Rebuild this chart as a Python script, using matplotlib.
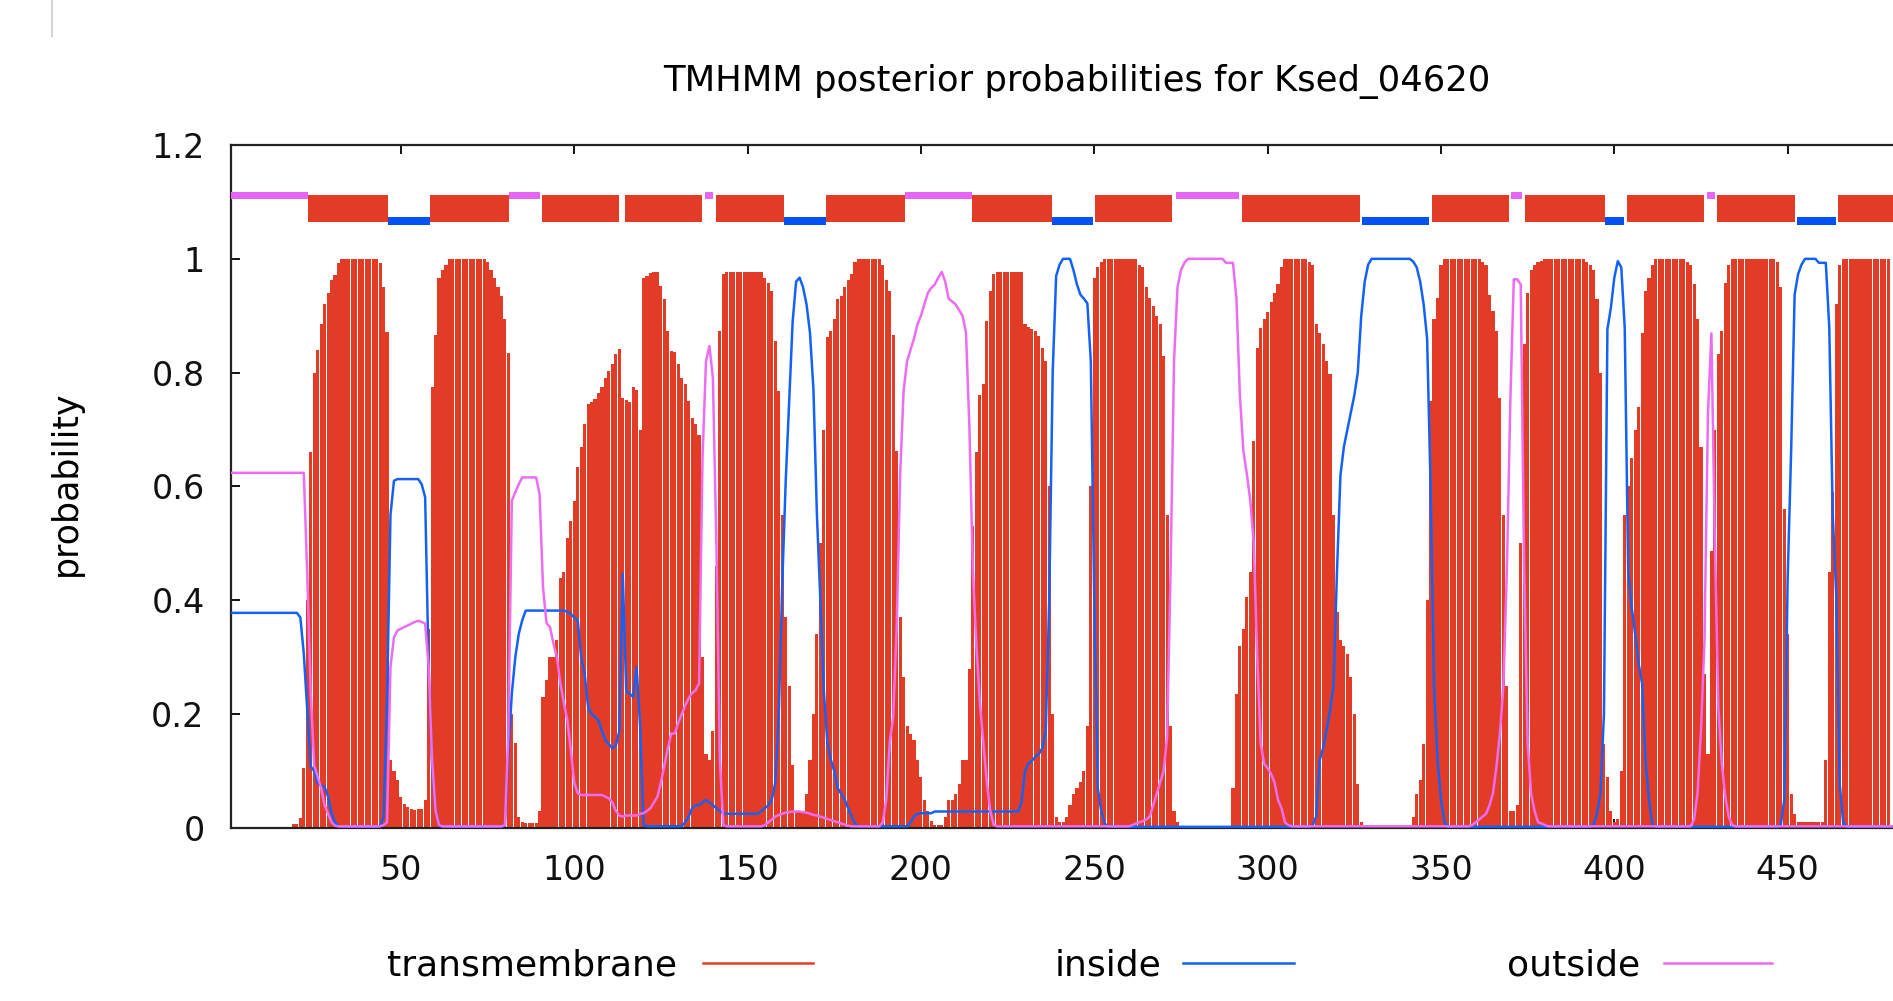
import numpy as np
import matplotlib.pyplot as plt
from matplotlib.lines import Line2D

# posterior probabilities per residue (1..480)
tm = ([0.0] * 18
      + [0.007, 0.007, 0.017, 0.105, 0.4, 0.66, 0.8, 0.84, 0.886, 0.92, 0.94, 0.963, 0.972, 0.992]
      + [1.0] * 11
      + [0.992, 0.95, 0.872, 0.119, 0.1, 0.084, 0.055, 0.043, 0.037, 0.034, 0.032, 0.034, 0.034, 0.049, 0.35]
      + [0.775, 0.866, 0.966, 0.98, 0.99]
      + [1.0] * 11
      + [0.995, 0.98, 0.966, 0.95, 0.934, 0.895, 0.834, 0.2, 0.15, 0.02, 0.01, 0.008, 0.008, 0.008, 0.008, 0.03]
      + [0.23, 0.26, 0.3, 0.3, 0.33, 0.44, 0.45, 0.51, 0.54, 0.575, 0.634, 0.67, 0.71, 0.745, 0.748,
         0.754, 0.765, 0.774, 0.791, 0.803, 0.815, 0.832, 0.841, 0.756, 0.752, 0.748, 0.774, 0.77, 0.70]
      + [0.966, 0.969, 0.975, 0.976, 0.976, 0.952, 0.929, 0.873, 0.838, 0.836, 0.815, 0.79, 0.78, 0.75,
         0.72, 0.71, 0.69, 0.3, 0.13, 0.12, 0.17, 0.46, 0.873, 0.973]
      + [0.976] * 11
      + [0.967, 0.958, 0.943, 0.855, 0.768, 0.55, 0.37, 0.25, 0.11, 0.03, 0.03, 0.03, 0.06, 0.12, 0.2,
         0.34, 0.5, 0.7, 0.862, 0.873, 0.895, 0.93, 0.935, 0.95, 0.962, 0.973, 0.995]
      + [1.0] * 7
      + [0.99, 0.962, 0.944, 0.867, 0.663, 0.37, 0.265, 0.18, 0.166, 0.154, 0.12, 0.09, 0.049, 0.03,
         0.012, 0.005, 0.005, 0.005, 0.02, 0.049, 0.05, 0.06, 0.078, 0.119, 0.12, 0.28, 0.53, 0.66,
         0.76, 0.78, 0.89, 0.943, 0.973]
      + [0.976] * 8
      + [0.885, 0.88, 0.876, 0.873, 0.864, 0.844, 0.82, 0.6, 0.2, 0.02, 0.01, 0.01, 0.02, 0.04, 0.06,
         0.07, 0.08, 0.1, 0.18, 0.6, 0.967, 0.985, 0.995]
      + [1.0] * 10
      + [0.99, 0.985, 0.95, 0.932, 0.918, 0.9, 0.885, 0.83, 0.55, 0.18, 0.03, 0.01]
      + [0.0] * 15
      + [0.07, 0.236, 0.32, 0.35, 0.406, 0.45, 0.68, 0.844, 0.878, 0.895, 0.907, 0.925, 0.94, 0.955, 0.985]
      + [1.0] * 7
      + [0.995, 0.99, 0.885, 0.87, 0.85, 0.82, 0.797, 0.55, 0.38, 0.33, 0.32, 0.306, 0.265, 0.2, 0.078, 0.01]
      + [0.0] * 14
      + [0.02, 0.06, 0.084, 0.148, 0.4, 0.75, 0.895, 0.932, 0.99]
      + [1.0] * 11
      + [0.995, 0.99, 0.937, 0.908, 0.873, 0.756, 0.55, 0.25, 0.03, 0.03, 0.04, 0.5, 0.85, 0.94, 0.98,
         0.99, 0.995, 0.996]
      + [1.0] * 12
      + [0.995, 0.99, 0.98, 0.93, 0.8, 0.148, 0.09, 0.03, 0.01, 0.015, 0.1, 0.55, 0.6, 0.65, 0.7, 0.74,
         0.87, 0.943, 0.967]
      + [0.99]
      + [1.0] * 9
      + [0.995, 0.99, 0.955, 0.895, 0.67, 0.27, 0.13, 0.487, 0.7, 0.832, 0.873, 0.958, 0.99]
      + [1.0] * 13
      + [0.995, 0.95, 0.56, 0.34, 0.06, 0.025, 0.01, 0.01, 0.01, 0.01, 0.01, 0.01, 0.01, 0.01, 0.12,
         0.45, 0.59, 0.92, 0.99]
      + [1.0] * 14)

inside = ([0.378] * 20
          + [0.37, 0.306, 0.207, 0.108, 0.1, 0.078, 0.075, 0.072, 0.055, 0.026, 0.01, 0.003]
          + [0.002] * 11
          + [0.003, 0.02, 0.224, 0.55, 0.61, 0.613, 0.613, 0.613, 0.613, 0.613, 0.613, 0.613, 0.604,
             0.581, 0.283, 0.108, 0.032, 0.005]
          + [0.002] * 18
          + [0.005, 0.137, 0.236, 0.3, 0.341, 0.365]
          + [0.382] * 12
          + [0.38, 0.376, 0.37, 0.365, 0.3, 0.271, 0.213, 0.2, 0.195, 0.189, 0.17, 0.154, 0.147, 0.14,
             0.145, 0.17, 0.447, 0.24, 0.236, 0.23, 0.283, 0.178, 0.005]
          + [0.003] * 11
          + [0.01, 0.02, 0.035, 0.04, 0.04, 0.045, 0.049, 0.045, 0.04, 0.035, 0.03]
          + [0.025] * 11
          + [0.03, 0.035, 0.04, 0.05, 0.08, 0.2, 0.43, 0.61, 0.75, 0.89, 0.96, 0.967, 0.95, 0.92, 0.87,
             0.77, 0.55, 0.40, 0.24, 0.15, 0.12, 0.1, 0.07, 0.06, 0.05, 0.035, 0.02, 0.008]
          + [0.003] * 15
          + [0.01, 0.02, 0.025, 0.026, 0.026, 0.026, 0.026]
          + [0.029] * 25
          + [0.045, 0.1, 0.113, 0.118, 0.125, 0.13, 0.14, 0.17, 0.4, 0.8, 0.97, 0.99, 1.0, 1.0, 1.0,
             0.98, 0.955, 0.937, 0.93, 0.922, 0.82, 0.4, 0.07, 0.03, 0.008]
          + [0.002] * 59
          + [0.005, 0.02, 0.119, 0.14, 0.172, 0.207, 0.25, 0.45, 0.62, 0.67, 0.70, 0.73, 0.76, 0.80,
             0.90, 0.96, 0.99]
          + [1.0] * 12
          + [0.995, 0.985, 0.96, 0.92, 0.86, 0.6, 0.25, 0.12, 0.05, 0.01]
          + [0.002] * 42
          + [0.005, 0.026, 0.061, 0.2, 0.876, 0.914, 0.967, 0.996, 0.985, 0.879, 0.45, 0.388, 0.341,
             0.289, 0.254, 0.119, 0.049, 0.005]
          + [0.002] * 36
          + [0.005, 0.049, 0.44, 0.663, 0.937, 0.973, 0.99, 1.0, 1.0, 1.0, 1.0, 0.993, 0.993, 0.993,
             0.879, 0.55, 0.41, 0.078, 0.01]
          + [0.002] * 14)

outside = ([0.624] * 22
           + [0.444, 0.236, 0.11, 0.09, 0.07, 0.04, 0.025, 0.01, 0.004]
           + [0.003] * 13
           + [0.005, 0.01, 0.283, 0.335, 0.347, 0.35, 0.353, 0.356, 0.359, 0.362, 0.364, 0.362, 0.359,
              0.283, 0.12, 0.03, 0.005]
           + [0.003] * 18
           + [0.005, 0.166, 0.575, 0.59, 0.604]
           + [0.616] * 5
           + [0.587, 0.423, 0.36, 0.353, 0.324, 0.3, 0.254, 0.22, 0.19, 0.137, 0.08, 0.061]
           + [0.058] * 7
           + [0.055, 0.052, 0.045, 0.03, 0.022, 0.02, 0.022, 0.022, 0.022, 0.022, 0.025, 0.026, 0.03,
              0.035, 0.045, 0.055, 0.08, 0.11, 0.14, 0.166, 0.166, 0.185, 0.2, 0.215, 0.228, 0.237,
              0.242, 0.254, 0.65, 0.82, 0.847, 0.79, 0.5, 0.12, 0.005]
           + [0.003] * 11
           + [0.005, 0.01, 0.015, 0.02, 0.023, 0.025, 0.027, 0.028, 0.029, 0.029, 0.029, 0.028, 0.027,
              0.025, 0.023, 0.022, 0.02, 0.018, 0.016, 0.014, 0.012, 0.01, 0.008, 0.006, 0.004, 0.003,
              0.003, 0.003, 0.003, 0.003, 0.003, 0.003, 0.003, 0.003]
           + [0.01, 0.05, 0.15, 0.195, 0.35, 0.62, 0.768, 0.82, 0.84, 0.86, 0.885, 0.9, 0.92, 0.94, 0.949,
              0.955, 0.967, 0.977, 0.96, 0.93, 0.925, 0.92, 0.91, 0.9, 0.87, 0.7, 0.45, 0.32, 0.22, 0.15,
              0.08, 0.03, 0.005]
           + [0.003] * 39
           + [0.005, 0.008, 0.01, 0.012, 0.015, 0.02, 0.04, 0.06, 0.08, 0.1,
              0.16, 0.45, 0.82, 0.95, 0.98, 0.993, 1.0, 1.0, 1.0, 1.0,
              1.0, 1.0, 1.0, 1.0, 1.0, 1.0, 1.0, 0.993, 0.993, 0.993,
              0.93, 0.76, 0.663, 0.622, 0.575, 0.5, 0.3, 0.148, 0.113, 0.105,
              0.095, 0.08, 0.049, 0.035, 0.01, 0.005]
           + [0.003] * 52
           + [0.005, 0.01, 0.015, 0.02, 0.025, 0.04, 0.061, 0.108, 0.166, 0.25, 0.45, 0.75, 0.964, 0.964,
              0.955, 0.45, 0.148, 0.06, 0.03, 0.01, 0.008, 0.005]
           + [0.003] * 42
           + [0.015, 0.061, 0.172, 0.33, 0.727, 0.869, 0.5, 0.213, 0.113, 0.055, 0.02, 0.005]
           + [0.003] * 46)

# predicted topology (top track), residue ranges
tm_seg_start = [23.3, 58.3, 90.8, 114.6, 140.8, 172.6, 214.8, 250.3, 292.6, 347.3, 374.3, 403.7, 429.7, 464.6]
tm_seg_end = [46.4, 81.3, 113.0, 136.8, 160.6, 195.5, 237.8, 272.5, 326.6, 369.5, 397.3, 425.8, 452.0, 490.0]
in_seg_start = [46.4, 160.6, 237.8, 327.3, 397.3, 452.8]
in_seg_end = [58.3, 172.6, 249.7, 346.6, 402.8, 463.9]
out_seg_start = [1.0, 81.3, 137.8, 195.5, 273.5, 370.3, 426.6]
out_seg_end = [23.3, 90.1, 140.1, 214.8, 291.6, 373.5, 429.0]

title = 'TMHMM posterior probabilities for Ksed_04620'
y_ticks = [0, 0.2, 0.4, 0.6, 0.8, 1.0, 1.2]
y_tick_labels = ['0', '0.2', '0.4', '0.6', '0.8', '1', '1.2']
x_ticks = [50, 100, 150, 200, 250, 300, 350, 400, 450]

RED = '#E33C26'
BLUE = '#1462F5'
MAG = '#EC6CF2'
BLUE_BAR = '#0052F2'
MAG_BAR = '#E466F2'

W, H = 1893, 1001
fig = plt.figure(figsize=(W / 100, H / 100), dpi=100)
ax = fig.add_axes([231 / W, 1 - 828 / H, (W - 231) / W, (828 - 145) / H])

res_tm = np.arange(1, len(tm) + 1)
res_in = np.arange(1, len(inside) + 1)
res_out = np.arange(1, len(outside) + 1)

ax.bar(res_tm, tm, width=0.9, color=RED, linewidth=0, antialiased=False, zorder=1)
ax.plot(res_in, inside, color=BLUE, lw=1.8, zorder=3)
ax.plot(res_out, outside, color=MAG, lw=1.8, zorder=4)

# topology track
ax.broken_barh([(s, e - s) for s, e in zip(in_seg_start, in_seg_end)], (1.0603, 0.0134),
               facecolors=BLUE_BAR, zorder=2)
ax.broken_barh([(s, e - s) for s, e in zip(tm_seg_start, tm_seg_end)], (1.0649, 0.048),
               facecolors=RED, zorder=3)
ax.broken_barh([(s, e - s) for s, e in zip(out_seg_start, out_seg_end)], (1.1046, 0.0128),
               facecolors=MAG_BAR, zorder=4)

ax.set_xlim(1, 1 + (W - 231) / 3.467)
ax.set_ylim(0, 1.2)
ax.set_xticks(x_ticks)
ax.set_xticklabels([str(t) for t in x_ticks])
ax.set_yticks(y_ticks)
ax.set_yticklabels(y_tick_labels)
ax.tick_params(direction='in', length=6.5, width=1.4, top=True, right=False,
               labelsize=24, pad=19, colors='#111111')
ax.set_axisbelow(True)

ax.spines['right'].set_visible(False)
for s in ['left', 'top', 'bottom']:
    ax.spines[s].set_linewidth(1.6)
    ax.spines[s].set_color('#222222')

fig.text(1077 / W, 1 - 91 / H, title, ha='center', va='baseline', fontsize=25.5)
fig.text(66 / W, 1 - 483 / H, 'probability', rotation=90, ha='center', va='center', fontsize=25)

# key along the bottom, gnuplot style (text then sample)
key = [('transmembrane', 677, 703, 813, RED),
       ('inside', 1161, 1183, 1294, BLUE),
       ('outside', 1640, 1664, 1772, MAG)]
for label, tx, x0, x1, col in key:
    fig.text(tx / W, 1 - 975 / H, label, ha='right', va='baseline', fontsize=26)
    fig.add_artist(Line2D([x0 / W, x1 / W], [1 - 962.7 / H] * 2, color=col, lw=1.8))

# thin grey edge at the top left of the screenshot
fig.add_artist(Line2D([52 / W, 52 / W], [1, 1 - 36 / H], color='#d4d4d4', lw=1.5))

fig.savefig('out.png', dpi=100)
